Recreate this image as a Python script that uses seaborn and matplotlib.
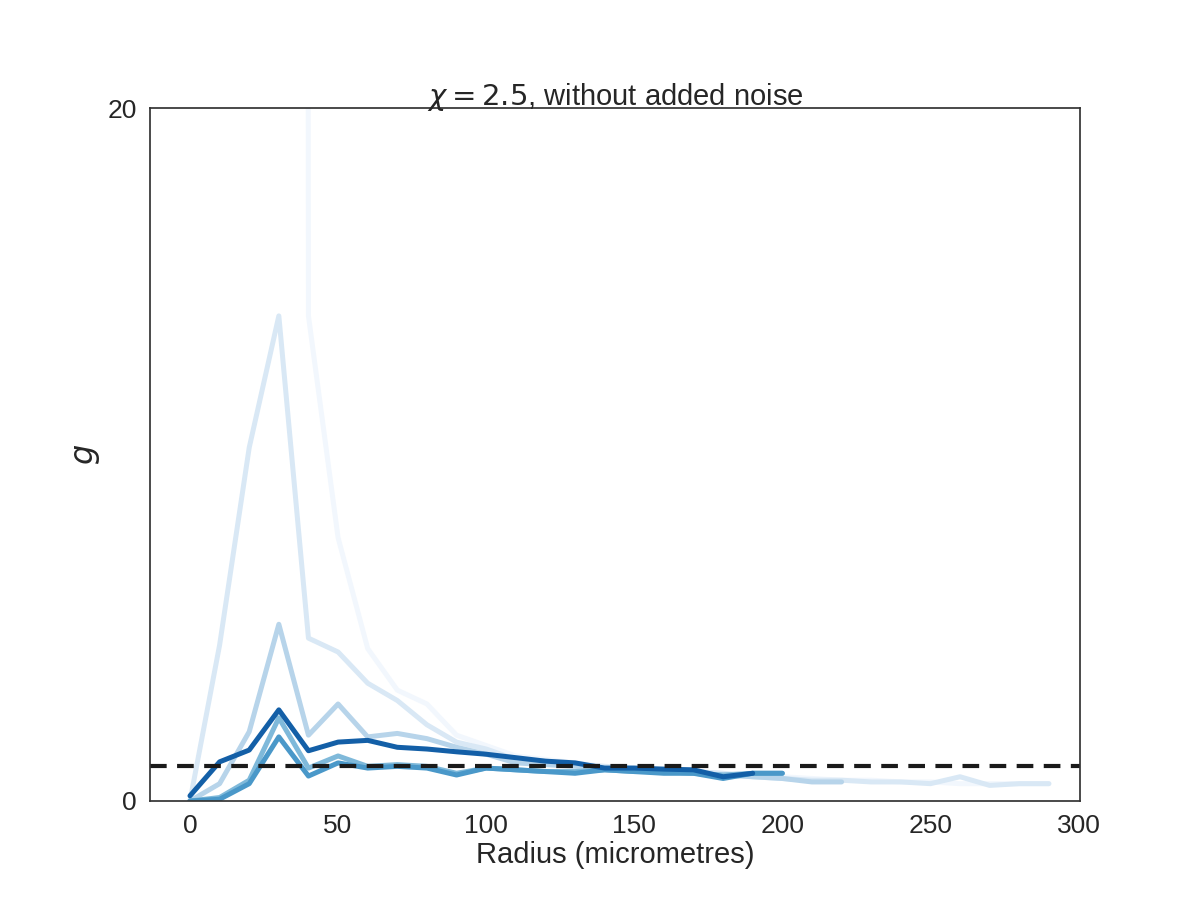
import numpy as np
import pandas as pd
import matplotlib
matplotlib.use("Agg")
import matplotlib.pyplot as plt
import seaborn as sns

# radius bins (micrometres)
r_faint = [30, 40, 50, 60, 70, 80, 90, 100, 110, 120, 130, 140, 150, 160, 170, 180, 190, 200, 210, 220, 230, 240, 250, 260, 270, 280, 290]
g_faint = [900, 14.0, 7.6, 4.4, 3.2, 2.8, 1.9, 1.6, 1.3, 1.2, 1.1, 1.0, 0.95, 0.9, 0.85, 0.8, 0.75, 0.7, 0.65, 0.6, 0.6, 0.55, 0.55, 0.5, 0.5, 0.5, 0.5]
r_light = [0, 10, 20, 30, 40, 50, 60, 70, 80, 90, 100, 110, 120, 130, 140, 150, 160, 170, 180, 190, 200, 210, 220, 230, 240, 250, 260, 270, 280, 290]
g_light = [0.0, 4.5, 10.2, 14.0, 4.7, 4.3, 3.4, 2.9, 2.2, 1.7, 1.5, 1.2, 1.15, 1.05, 1.0, 0.95, 0.9, 0.85, 0.8, 0.7, 0.65, 0.6, 0.6, 0.55, 0.55, 0.5, 0.7, 0.45, 0.5, 0.5]
r_mid1 = [0, 10, 20, 30, 40, 50, 60, 70, 80, 90, 100, 110, 120, 130, 140, 150, 160, 170, 180, 190, 200, 210, 220]
g_mid1 = [0.0, 0.5, 2.0, 5.1, 1.9, 2.8, 1.85, 1.95, 1.8, 1.55, 1.35, 1.1, 1.05, 1.0, 0.95, 0.9, 0.85, 0.8, 0.75, 0.7, 0.65, 0.55, 0.55]
r_mid2 = [0, 10, 20, 30, 40, 50, 60, 70, 80, 90, 100, 110, 120, 130, 140, 150, 160, 170, 180, 190, 200]
g_mid2 = [0.0, 0.1, 0.6, 2.4, 0.95, 1.3, 1.0, 1.05, 1.0, 0.8, 0.95, 0.9, 0.85, 0.85, 0.9, 0.85, 0.85, 0.8, 0.75, 0.8, 0.8]
r_mid3 = r_mid2
g_mid3 = [0.0, 0.05, 0.5, 1.85, 0.72, 1.1, 0.95, 1.0, 0.95, 0.75, 0.95, 0.9, 0.85, 0.8, 0.9, 0.85, 0.8, 0.8, 0.65, 0.8, 0.8]
r_dark = [0, 10, 20, 30, 40, 50, 60, 70, 80, 90, 100, 110, 120, 130, 140, 150, 160, 170, 180, 190]
g_dark = [0.15, 1.13, 1.47, 2.63, 1.45, 1.7, 1.75, 1.55, 1.5, 1.42, 1.35, 1.25, 1.15, 1.1, 0.95, 0.95, 0.92, 0.9, 0.7, 0.8]

series = [(r_faint, g_faint), (r_light, g_light), (r_mid1, g_mid1),
          (r_mid2, g_mid2), (r_mid3, g_mid3), (r_dark, g_dark)]

sns.set_theme(style="white")
plt.rcParams['font.family'] = ['Liberation Sans', 'DejaVu Sans']
cmap = plt.get_cmap("Blues")
shades = [0.03, 0.15, 0.3, 0.45, 0.6, 0.82]

fig, ax = plt.subplots(figsize=(12, 9), dpi=100)
for (r, g), s in zip(series, shades):
    df = pd.DataFrame({"r": r, "g": g})
    sns.lineplot(data=df, x="r", y="g", color=cmap(s), lw=3.6, ax=ax)
ax.axhline(1.0, color="k", ls="--", lw=3, dashes=(4, 2.5))

ax.set_ylim(0, 20)
ax.set_xlim(-13.5, 300.5)
ax.set_yticks([0, 20])
ax.set_xticks([0, 50, 100, 150, 200, 250, 300])
ax.tick_params(labelsize=19)
ax.set_xlabel("Radius (micrometres)", fontsize=21, labelpad=2)
ax.set_ylabel("$g$", fontsize=23)
ax.set_title(r"$\chi = 2.5$, without added noise", fontsize=21, pad=2)
for sp in ax.spines.values():
    sp.set_color("#333333")
plt.subplots_adjust(left=0.125, right=0.9, top=0.88, bottom=0.11)
fig.savefig("out.png")
